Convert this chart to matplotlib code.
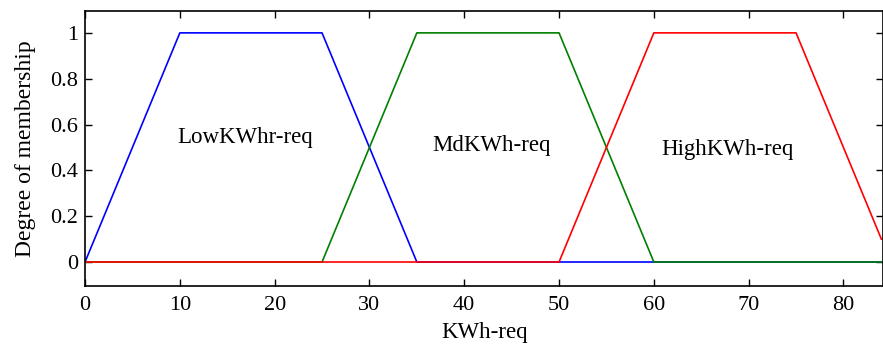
import numpy as np
import matplotlib
matplotlib.use('Agg')
import matplotlib.pyplot as plt

plt.rcParams['font.family'] = ['Liberation Serif', 'DejaVu Serif']

x = np.linspace(0, 84, 841)
mf_names = ['LowKWhr-req', 'MdKWh-req', 'HighKWh-req']
mf_params = [[0, 10, 25, 35], [25, 35, 50, 60], [50, 60, 75, 85]]
mf_colors = ['#0000ff', '#008000', '#ff0000']
label_x = [16.9, 42.9, 67.8]
label_y = [0.545, 0.51, 0.49]


def trapmf(x, p):
    a, b, c, d = p
    return np.clip(np.minimum((x - a) / (b - a), (d - x) / (d - c)), 0, 1)


fig = plt.figure(figsize=(8.83, 3.51), dpi=100)
ax = fig.add_axes([0.0963, 0.185, 0.904, 0.784])

for name, p, col, tx, ty in zip(mf_names, mf_params, mf_colors, label_x, label_y):
    ax.plot(x, trapmf(x, p), color=col, lw=1.2)
    ax.text(tx, ty, name, fontsize=16.5, ha='center', va='center')

ax.set_xlim(0, 84.2)
ax.set_ylim(-0.105, 1.096)
ax.set_xticks([0, 10, 20, 30, 40, 50, 60, 70, 80])
ax.set_yticks([0, 0.2, 0.4, 0.6, 0.8, 1])
ax.set_yticklabels(['0', '0.2', '0.4', '0.6', '0.8', '1'])
ax.tick_params(direction='in', top=True, right=True, length=5, width=1,
               labelsize=16)
ax.tick_params(axis='x', pad=7)
ax.tick_params(axis='y', pad=5)
for s in ax.spines.values():
    s.set_linewidth(1.2)
ax.set_xlabel('KWh-req', fontsize=16.5, labelpad=5)
ax.set_ylabel('Degree of membership', fontsize=17, labelpad=10)

fig.savefig('out.png', dpi=100)
